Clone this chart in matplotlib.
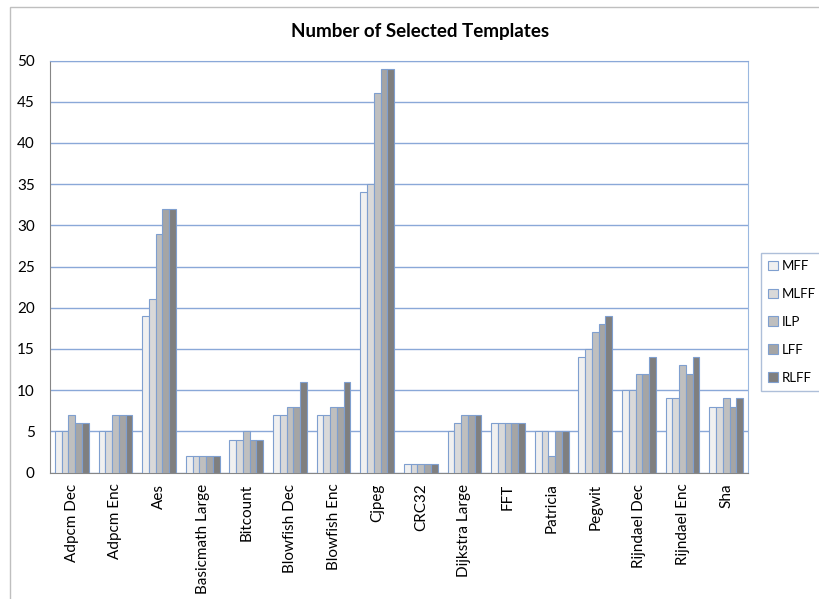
import matplotlib
matplotlib.use("Agg")
import matplotlib.pyplot as plt
import numpy as np
from matplotlib.patches import Rectangle

categories = ["Adpcm Dec", "Adpcm Enc", "Aes", "Basicmath Large", "Bitcount",
              "Blowfish Dec", "Blowfish Enc", "Cjpeg", "CRC32", "Dijkstra Large",
              "FFT", "Patricia", "Pegwit", "Rijndael Dec", "Rijndael Enc", "Sha"]
series_names = ["MFF", "MLFF", "ILP", "LFF", "RLFF"]
mff  = [5, 5, 19, 2, 4, 7, 7, 34, 1, 5, 6, 5, 14, 10, 9, 8]
mlff = [5, 5, 21, 2, 4, 7, 7, 35, 1, 6, 6, 5, 15, 10, 9, 8]
ilp  = [7, 7, 29, 2, 5, 8, 8, 46, 1, 7, 6, 2, 17, 12, 13, 9]
lff  = [6, 7, 32, 2, 4, 8, 8, 49, 1, 7, 6, 5, 18, 12, 12, 8]
rlff = [6, 7, 32, 2, 4, 11, 11, 49, 1, 7, 6, 5, 19, 14, 14, 9]
yticks = [0, 5, 10, 15, 20, 25, 30, 35, 40, 45, 50]

colors = ["#f0f0f0", "#d9d9d9", "#bfbfbf", "#a5a5a5", "#7f7f7f"]
edge = "#7f9fcf"
grid_c = "#8aa8d8"
font = ["Lato", "DejaVu Sans"]
plt.rcParams['font.family'] = font

fig = plt.figure(figsize=(8.19, 5.99), dpi=100)
W, H = 819, 599
ax = fig.add_axes([50 / W, 1 - 472.5 / H, (748 - 50) / W, (472.5 - 60.5) / H])

x = np.arange(len(categories))
bw = 0.155
all_series = [mff, mlff, ilp, lff, rlff]
for i, (vals, name, c) in enumerate(zip(all_series, series_names, colors)):
    ax.bar(x + (i - 2) * bw, vals, bw, color=c, edgecolor=edge, linewidth=0.8,
           label=name, zorder=3)

ax.set_xlim(-0.5, len(categories) - 0.5)
ax.set_ylim(0, 50)
ax.set_yticks(yticks)
ax.tick_params(axis='y', length=0, labelsize=11, pad=11)
ax.set_xticks(x)
ax.set_xticklabels(categories, rotation=90, fontsize=11)
ax.tick_params(axis='x', length=0, pad=8)
ax.grid(axis='y', color=grid_c, linewidth=1, zorder=0)
for s in ["left", "bottom"]:
    ax.spines[s].set_color("#868686")
ax.spines["top"].set_color(grid_c)
ax.spines["right"].set_color("#9ab8e0")

fig.text(420 / W, 1 - 32 / H, "Number of Selected Templates", ha="center", va="center",
         fontsize=13.5, fontweight="bold")

leg = fig.legend(loc="upper left", bbox_to_anchor=(761 / W, 1 - 253 / H),
                 frameon=True, fontsize=9.5, handlelength=0.75, handleheight=0.75,
                 handletextpad=0.3, labelspacing=1.2, borderpad=0.55,
                 borderaxespad=0, fancybox=False)
leg.get_frame().set_edgecolor("#9ab0d0")
leg.get_frame().set_linewidth(1)

# chart area border
fig.add_artist(Rectangle((10 / W, -0.1), 1.0, 1 - 7 / H + 0.1, transform=fig.transFigure,
                         fill=False, edgecolor="#bfbfbf", linewidth=1))

fig.savefig("out.png", dpi=100)
